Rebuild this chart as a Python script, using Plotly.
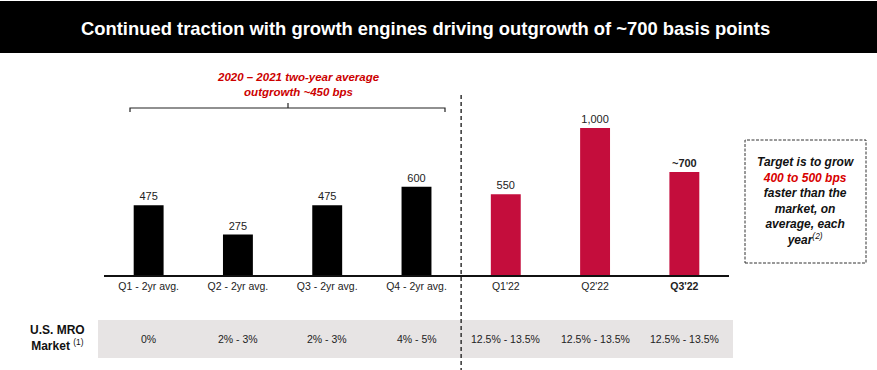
import plotly.graph_objects as go

W, H = 877, 370

categories = ["Q1 - 2yr avg.", "Q2 - 2yr avg.", "Q3 - 2yr avg.", "Q4 - 2yr avg.", "Q1'22", "Q2'22", "Q3'22"]
tick_labels = ["Q1 - 2yr avg.", "Q2 - 2yr avg.", "Q3 - 2yr avg.", "Q4 - 2yr avg.", "Q1'22", "Q2'22", "<b>Q3'22</b>"]
outgrowth_bps = [475, 275, 475, 600, 550, 1000, 700]
value_labels = ["475", "275", "475", "600", "550", "1,000", "<b>~700</b>"]
market_growth = ["0%", "2% - 3%", "2% - 3%", "4% - 5%", "12.5% - 13.5%", "12.5% - 13.5%", "12.5% - 13.5%"]
bar_colors = ["#000000"] * 4 + ["#C40D3C"] * 3

FONT = "Liberation Sans, Arial, sans-serif"


def px(x):
    return x / W


def py(y):
    return 1 - y / H


x_idx = list(range(len(categories)))

fig = go.Figure()
fig.add_trace(go.Bar(
    x=x_idx, y=outgrowth_bps,
    marker=dict(color=bar_colors, line=dict(width=0)),
    width=0.335,
    text=value_labels, textposition="outside", cliponaxis=False,
    textfont=dict(family=FONT, size=11, color="#222222"),
    hoverinfo="skip",
))

base_px = 275
top_units = base_px / 0.147

fig.update_layout(
    width=W, height=H,
    margin=dict(l=0, r=0, t=0, b=0),
    paper_bgcolor="white", plot_bgcolor="white",
    showlegend=False,
    font=dict(family=FONT, color="#222222"),
    xaxis=dict(
        domain=[px(104), px(729)],
        range=[-0.5, 6.5],
        tickmode="array", tickvals=x_idx, ticktext=tick_labels,
        tickfont=dict(family=FONT, size=10.5, color="#222222"),
        showline=True, linecolor="#111111", linewidth=1.5,
        showgrid=False, zeroline=False, ticks="", ticklabelstandoff=1,
    ),
    yaxis=dict(
        domain=[py(base_px), 1],
        range=[0, top_units],
        visible=False, showgrid=False, zeroline=False,
    ),
)

shapes = []
annotations = []

# Title bar
shapes.append(dict(type="rect", xref="paper", yref="paper",
                   x0=0, x1=1, y0=py(53), y1=py(1),
                   fillcolor="#000000", line=dict(width=0), layer="below"))
annotations.append(dict(xref="paper", yref="paper", x=px(425), y=py(28),
                        text="<b>Continued traction with growth engines driving outgrowth of ~700 basis points</b>",
                        showarrow=False, xanchor="center", yanchor="middle",
                        font=dict(family=FONT, size=18.4, color="white")))

# Gray table band
shapes.append(dict(type="rect", xref="paper", yref="paper",
                   x0=px(98), x1=px(733), y0=py(358), y1=py(320),
                   fillcolor="#E7E4E4", line=dict(width=0), layer="below"))

# Dashed divider
shapes.append(dict(type="line", xref="x", yref="paper",
                   x0=3.5, x1=3.5, y0=py(95), y1=0,
                   line=dict(color="#333333", width=1.5, dash="4px,3px")))

# Bracket
shapes.append(dict(type="path", xref="paper", yref="paper",
                   path=f"M {px(130)},{py(112)} L {px(130)},{py(108)} L {px(445)},{py(108)} L {px(445)},{py(112)}",
                   line=dict(color="#222222", width=1.2)))
shapes.append(dict(type="line", xref="paper", yref="paper",
                   x0=px(288), x1=px(288), y0=py(108), y1=py(103),
                   line=dict(color="#222222", width=1.2)))
annotations.append(dict(xref="paper", yref="paper", x=px(298), y=py(84),
                        text="<b><i>2020 – 2021 two-year average<br>outgrowth ~450 bps</i></b>",
                        showarrow=False, xanchor="center", yanchor="middle",
                        font=dict(family=FONT, size=11.5, color="#CC0000")))

# Right target box
shapes.append(dict(type="rect", xref="paper", yref="paper",
                   x0=px(745), x1=px(866), y0=py(263), y1=py(140),
                   line=dict(color="#333333", width=1, dash="3px,1.5px"), fillcolor="rgba(0,0,0,0)"))
annotations.append(dict(xref="paper", yref="paper", x=px(805.5), y=py(201),
                        text=("<b><i>Target is to grow<br>"
                              "<span style='color:#D80000'>400 to 500 bps</span><br>"
                              "faster than the<br>market, on<br>average, each<br>"
                              "year</i></b><i><sup>(2)</sup></i>"),
                        showarrow=False, xanchor="center", yanchor="middle", align="center",
                        font=dict(family=FONT, size=12, color="#111111")))

# Row label
annotations.append(dict(xref="paper", yref="paper", x=px(58), y=py(338),
                        text="<b>U.S. MRO<br>Market</b> <sup>(1)</sup>",
                        showarrow=False, xanchor="center", yanchor="middle", align="center",
                        font=dict(family=FONT, size=12, color="#111111")))

# Table values
for i, v in enumerate(market_growth):
    annotations.append(dict(xref="x", yref="paper", x=i, y=py(339), text=v,
                            showarrow=False, xanchor="center", yanchor="middle",
                            font=dict(family=FONT, size=10.5, color="#222222")))

fig.update_layout(shapes=shapes, annotations=annotations)
fig.write_html("out.html", config={"displayModeBar": False},
               post_script="document.body.style.margin='0';document.body.style.overflow='hidden';")
